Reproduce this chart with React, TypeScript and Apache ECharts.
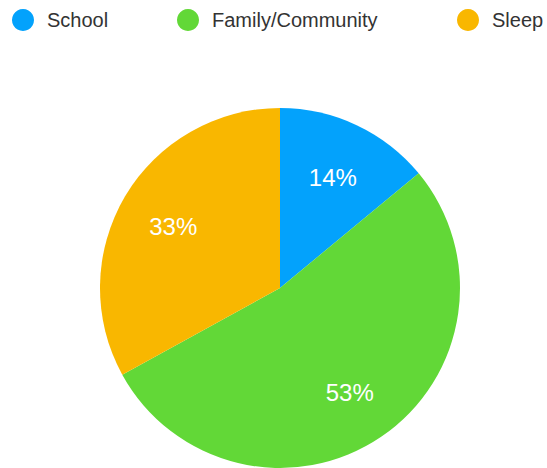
import React, { useEffect, useRef } from "react";
import * as echarts from "echarts";

const categories = ["School", "Family/Community", "Sleep"];
const values = [14, 53, 33];
const colors = ["#03A2FC", "#62D837", "#F9B700"];
const legendLefts = [12, 177, 457];

export default function App() {
  const ref = useRef<HTMLDivElement>(null);
  useEffect(() => {
    if (!ref.current) return;
    const chart = echarts.init(ref.current, null, { renderer: "svg" });
    const data = categories.map((name, i) => ({
      name,
      value: values[i],
      itemStyle: { color: colors[i] },
    }));
    chart.setOption({
      animation: false,
      backgroundColor: "#ffffff",
      legend: categories.map((name, i) => ({
        data: [name],
        left: legendLefts[i],
        top: 9,
        padding: 0,
        icon: "circle",
        itemWidth: 22,
        itemHeight: 22,
        selectedMode: false,
        textStyle: {
          fontSize: 20,
          color: "#333333",
          fontFamily: "Liberation Sans",
          padding: [0, 0, 0, 8],
        },
      })),
      series: [
        {
          type: "pie",
          center: [280, 288],
          radius: [0, 180],
          startAngle: 90,
          clockwise: true,
          silent: true,
          label: { show: false },
          labelLine: { show: false },
          itemStyle: { borderWidth: 0 },
          data,
        },
        {
          type: "pie",
          center: [280, 290],
          radius: [62, 180],
          startAngle: 90,
          clockwise: true,
          silent: true,
          legendHoverLink: false,
          itemStyle: { color: "rgba(0,0,0,0)", borderWidth: 0 },
          label: {
            show: true,
            position: "inside",
            formatter: "{c}%",
            color: "#ffffff",
            fontSize: 24,
            fontFamily: "Liberation Sans",
          },
          labelLine: { show: false },
          data: categories.map((name, i) => ({
            name: name + " ",
            value: values[i],
          })),
        },
      ],
    });
    return () => chart.dispose();
  }, []);
  return (
    <div
      ref={ref}
      style={{ position: "fixed", left: 0, top: 0, width: 547, height: 468 }}
    />
  );
}
